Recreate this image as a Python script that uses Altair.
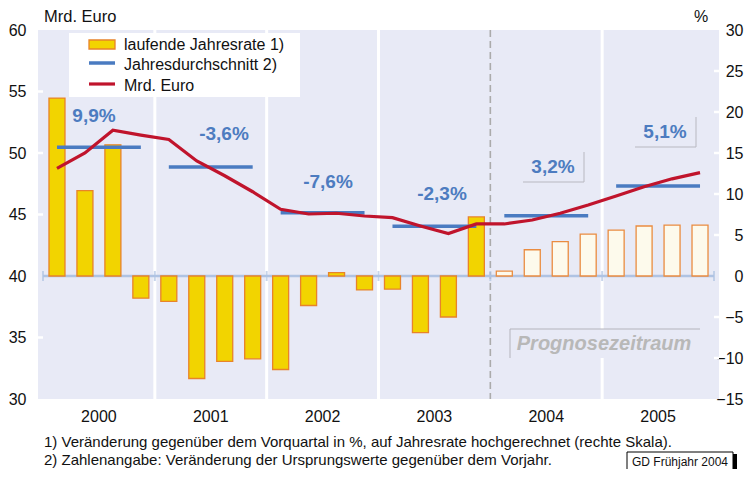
import altair as alt
import pandas as pd

# ---------------- data ----------------
years = ["2000", "2001", "2002", "2003", "2004", "2005"]
# laufende Jahresrate (right scale, %) per quarter
rate = [21.7, 10.4, 16.0, -2.7, -3.1, -12.5, -10.4, -10.1,
        -11.4, -3.6, 0.4, -1.7, -1.6, -6.9, -5.0, 7.2,
        0.6, 3.2, 4.2, 5.1, 5.6, 6.1, 6.2, 6.2]
# Mrd. Euro (left scale) per quarter
euro = [48.75, 50.0, 51.85, 51.45, 51.1, 49.35, 48.15, 46.85,
        45.42, 45.04, 45.1, 44.88, 44.74, 44.07, 43.45, 44.23,
        44.23, 44.55, 45.1, 45.77, 46.5, 47.26, 47.9, 48.4]
# Jahresdurchschnitt (left scale)
avg = [50.46, 48.86, 45.15, 44.05, 44.9, 47.32]
avg_labels = ["9,9%", "-3,6%", "-7,6%", "-2,3%", "3,2%", "5,1%"]
forecast_start = 16  # first forecast quarter index (2004 Q1)
left_ticks = [30, 35, 40, 45, 50, 55, 60]
right_ticks = [-15, -10, -5, 0, 5, 10, 15, 20, 25, 30]
left_inner_ticks = [35, 45, 50, 55]
right_inner_ticks = [-10, -5, 5, 10, 15, 20, 25]
legend_labels = ["laufende Jahresrate 1)", "Jahresdurchschnitt 2)", "Mrd. Euro"]
footnotes = ["1) Veränderung gegenüber dem Vorquartal in %, auf Jahresrate hochgerechnet (rechte Skala).",
             "2) Zahlenangabe: Veränderung der Ursprungswerte gegenüber dem Vorjahr."]
source_label = "GD Frühjahr 2004"
forecast_label = "Prognosezeitraum"

# ---------------- styles ----------------
W, H = 681, 369
BG = "#E8EAF6"
YELLOW = "#F2D400"
ORANGE = "#E8832A"
CREAM = "#FDFAEC"
ORANGE2 = "#EA8C40"
BLUE = "#4A7BC1"
RED = "#C0142C"
ZERO = "#AFC3E3"
LBLUE = "#4D7CC0"
FONT = "Liberation Sans"

xs = alt.Scale(domain=[0, 24], nice=False, zero=False)
ls = alt.Scale(domain=[30, 60], nice=False, zero=False)
rs = alt.Scale(domain=[-15, 30], nice=False, zero=False)

nq = len(rate)
df = pd.DataFrame({
    "q": [i + 0.5 for i in range(nq)],
    "rate": rate,
    "euro": euro,
    "fc": [i >= forecast_start for i in range(nq)],
})
avg_df = pd.DataFrame({
    "s": [4 * k + 0.5 for k in range(len(years))],
    "e": [4 * k + 3.5 for k in range(len(years))],
    "avg": avg,
})
year_df = pd.DataFrame({"c": [4 * k + 2 for k in range(len(years))], "year": years})
bounds = [4 * k for k in range(len(years) + 1)]
one = pd.DataFrame({"a": [0]})

X = lambda f: alt.X(f, scale=xs, axis=None)

grid = alt.Chart(pd.DataFrame({"b": [b for b in bounds[1:-1] if b != forecast_start]})).mark_rule(
    color="white", strokeWidth=3).encode(x=X("b:Q"), y=alt.value(0), y2=alt.value(H))
dashed = alt.Chart(pd.DataFrame({"b": [forecast_start]})).mark_rule(
    color="#ABABAB", strokeWidth=1.6, strokeDash=[7, 4]).encode(x=X("b:Q"), y=alt.value(0), y2=alt.value(H))

# Prognosezeitraum box
pbox = alt.Chart(one).mark_rect(fill=BG).encode(
    x=alt.value(472), x2=alt.value(662), y=alt.value(299), y2=alt.value(328))
pbox_top = alt.Chart(one).mark_rule(color="#B4B4BC", strokeWidth=1).encode(
    x=alt.value(472), x2=alt.value(662), y=alt.value(299))
pbox_left = alt.Chart(one).mark_rule(color="#B4B4BC", strokeWidth=1).encode(
    x=alt.value(472), y=alt.value(299), y2=alt.value(328))
ptext = alt.Chart(one).mark_text(text=forecast_label, font=FONT, fontSize=20, fontWeight="bold",
                                 fontStyle="italic", color="#B8B8B8", align="center", baseline="middle").encode(
    x=alt.value(566), y=alt.value(314))

zero_line = alt.Chart(pd.DataFrame({"a": [0], "b": [24], "v": [0]})).mark_rule(
    color=ZERO, strokeWidth=2.5).encode(x=X("a:Q"), x2="b:Q", y=alt.Y("v:Q", scale=rs, axis=None))
zero_ticks = alt.Chart(pd.DataFrame({"b": bounds, "v": [0] * len(bounds)})).mark_tick(
    orient="vertical", size=10, thickness=2, color=ZERO).encode(
    x=X("b:Q"), y=alt.Y("v:Q", scale=rs, axis=None))

lt = alt.Chart(pd.DataFrame({"v": left_inner_ticks})).mark_rule(color="white", strokeWidth=2.5).encode(
    y=alt.Y("v:Q", scale=ls, axis=None), x=alt.value(0), x2=alt.value(5))
rt = alt.Chart(pd.DataFrame({"v": right_inner_ticks})).mark_rule(color="white", strokeWidth=2.5).encode(
    y=alt.Y("v:Q", scale=rs, axis=None), x=alt.value(W - 5), x2=alt.value(W))

bars = alt.Chart(df).mark_bar(size=16, strokeWidth=1.3).encode(
    x=X("q:Q"),
    y=alt.Y("rate:Q", scale=rs,
            axis=alt.Axis(orient="right", values=right_ticks, ticks=False, domain=False, grid=False,
                          labelPadding=24, labelFontSize=16, labelColor="#111", labelFont=FONT,
                          labelAlign="right", title=None, labelFlush=False, labelOverlap=False)),
    y2=alt.datum(0),
    fill=alt.condition("datum.fc", alt.value(CREAM), alt.value(YELLOW)),
    stroke=alt.condition("datum.fc", alt.value(ORANGE2), alt.value(ORANGE)),
)

avg_lines = alt.Chart(avg_df).mark_rule(color=BLUE, strokeWidth=3.5).encode(
    x=X("s:Q"), x2="e:Q", y=alt.Y("avg:Q", scale=ls, axis=None))

red = alt.Chart(df).mark_line(color=RED, strokeWidth=3.2).encode(
    x=X("q:Q"),
    y=alt.Y("euro:Q", scale=ls,
            axis=alt.Axis(orient="left", values=left_ticks, ticks=False, domain=False, grid=False,
                          labelPadding=12, labelFontSize=16, labelColor="#111", labelFont=FONT,
                          title=None, labelFlush=False, labelOverlap=False)))

# percentage labels (pixel layout)
label_px = [(56, 86), (186, 104), (290, 152), (404, 164), (515, 137), (627, 102)]
labels = []
for txt, (px, py) in zip(avg_labels, label_px):
    labels.append(alt.Chart(one).mark_text(text=txt, font=FONT, fontSize=19, fontWeight="bold",
                                           color=LBLUE, align="center", baseline="middle").encode(
        x=alt.value(px), y=alt.value(py)))
# L-shaped frames for forecast labels
frames = []
for (rx, y0, y1, bx0) in [(546, 122, 152, 485), (658, 87, 117, 597)]:
    frames.append(alt.Chart(one).mark_rule(color="#B8B8C0", strokeWidth=1).encode(
        x=alt.value(rx), y=alt.value(y0), y2=alt.value(y1)))
    frames.append(alt.Chart(one).mark_rule(color="#B8B8C0", strokeWidth=1).encode(
        x=alt.value(bx0), x2=alt.value(rx), y=alt.value(y1)))

# legend
leg_box = alt.Chart(one).mark_rect(fill="white").encode(
    x=alt.value(31), x2=alt.value(262), y=alt.value(3), y2=alt.value(67))
leg_sw = alt.Chart(one).mark_rect(fill=YELLOW, stroke=ORANGE, strokeWidth=1.3).encode(
    x=alt.value(51), x2=alt.value(77), y=alt.value(10), y2=alt.value(19))
leg_blue = alt.Chart(one).mark_rule(color=BLUE, strokeWidth=3.5).encode(
    x=alt.value(51), x2=alt.value(77), y=alt.value(33))
leg_red = alt.Chart(one).mark_rule(color=RED, strokeWidth=3.2).encode(
    x=alt.value(51), x2=alt.value(77), y=alt.value(54))
leg_texts = []
for txt, py in zip(legend_labels, [15, 35, 55.5]):
    leg_texts.append(alt.Chart(one).mark_text(text=txt, font=FONT, fontSize=16, color="#111",
                                              align="left", baseline="middle").encode(
        x=alt.value(86), y=alt.value(py)))

# titles, years, footnotes
t_left = alt.Chart(one).mark_text(text="Mrd. Euro", font=FONT, fontSize=16.5, color="#111",
                                  align="left", baseline="middle").encode(x=alt.value(6), y=alt.value(-13))
t_right = alt.Chart(one).mark_text(text="%", font=FONT, fontSize=16, color="#111",
                                   align="center", baseline="middle").encode(x=alt.value(663), y=alt.value(-13))
year_text = alt.Chart(year_df).mark_text(font=FONT, fontSize=16, color="#111", baseline="middle").encode(
    x=X("c:Q"), y=alt.value(387), text="year:N")
foot = []
for txt, py in zip(footnotes, [412, 430]):
    foot.append(alt.Chart(one).mark_text(text=txt, font=FONT, fontSize=15, color="#111",
                                         align="left", baseline="middle").encode(x=alt.value(6), y=alt.value(py)))
gd_shadow = alt.Chart(one).mark_rect(fill="black").encode(
    x=alt.value(693), x2=alt.value(699), y=alt.value(424), y2=alt.value(440))
gd_box = alt.Chart(one).mark_rect(fill="white", stroke="black", strokeWidth=1).encode(
    x=alt.value(589), x2=alt.value(695), y=alt.value(422), y2=alt.value(440))
gd_text = alt.Chart(one).mark_text(text=source_label, font=FONT, fontSize=12, color="#111",
                                   align="center", baseline="middle").encode(x=alt.value(642), y=alt.value(431.5))

chart = alt.layer(
    grid, dashed, pbox, pbox_top, pbox_left, ptext, zero_line, zero_ticks, lt, rt,
    bars, avg_lines, red, *labels, *frames,
    leg_box, leg_sw, leg_blue, leg_red, *leg_texts,
    t_left, t_right, year_text, *foot, gd_shadow, gd_box, gd_text,
).resolve_scale(y="independent").properties(
    width=W, height=H,
    padding={"left": 30, "top": 22, "right": 25, "bottom": 70},
    autosize=alt.AutoSizeParams(type="none"),
    background="white",
).configure(font=FONT).configure_view(stroke=None, fill=BG)

chart.save("out.html", embed_options={"renderer": "svg", "actions": False})
